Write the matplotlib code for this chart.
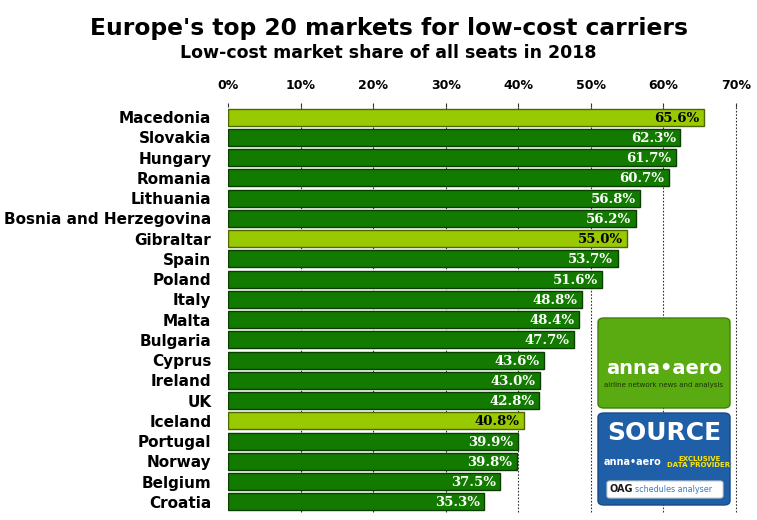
import matplotlib
matplotlib.use('Agg')
import matplotlib.pyplot as plt
from matplotlib.patches import FancyBboxPatch

countries = ['Macedonia', 'Slovakia', 'Hungary', 'Romania', 'Lithuania',
             'Bosnia and Herzegovina', 'Gibraltar', 'Spain', 'Poland', 'Italy',
             'Malta', 'Bulgaria', 'Cyprus', 'Ireland', 'UK', 'Iceland',
             'Portugal', 'Norway', 'Belgium', 'Croatia']
shares = [65.6, 62.3, 61.7, 60.7, 56.8, 56.2, 55.0, 53.7, 51.6, 48.8,
          48.4, 47.7, 43.6, 43.0, 42.8, 40.8, 39.9, 39.8, 37.5, 35.3]
highlight = ['Macedonia', 'Gibraltar', 'Iceland']
ticks = [0, 10, 20, 30, 40, 50, 60, 70]

W, H = 757, 520
fig = plt.figure(figsize=(W / 100, H / 100), dpi=100)
ax = fig.add_axes([228 / W, 1 - 512 / H, (736 - 228) / W, (512 - 107) / H])

ypos = list(range(len(countries)))
for y, c, v in zip(ypos, countries, shares):
    hl = c in highlight
    fc = '#99c900' if hl else '#137a00'
    ec = '#4d6600' if hl else '#0a3d00'
    ax.barh(y, v, height=0.84, color=fc, edgecolor=ec, linewidth=1.0, zorder=3)
    ax.text(v - 0.6, y + 0.05, f'{v:.1f}%', ha='right', va='center',
            fontsize=9.5, fontweight='bold', family='DejaVu Serif',
            color='black' if hl else 'white', zorder=4)

ax.set_xlim(0, 70)
ax.set_ylim(len(countries) - 0.5, -0.5)
ax.set_yticks(ypos)
ax.set_yticklabels(countries, fontsize=11, fontweight='bold')
ax.tick_params(axis='y', length=0, pad=12)
ax.xaxis.tick_top()
ax.set_xticks(ticks)
ax.set_xticklabels([f'{t}%' for t in ticks], fontsize=9, fontweight='bold')
ax.tick_params(axis='x', length=3, pad=8, color='#333333')
for t in ticks[1:]:
    ax.axvline(t, color='#333333', linestyle=(0, (1.5, 1.5)), linewidth=0.8,
               zorder=0, clip_on=False)
for s in ax.spines.values():
    s.set_visible(False)

fig.text(389 / W, 1 - 28 / H, "Europe's top 20 markets for low-cost carriers",
         ha='center', va='center', fontsize=16.8, fontweight='bold')
fig.text(388 / W, 1 - 53 / H, 'Low-cost market share of all seats in 2018',
         ha='center', va='center', fontsize=12.5, fontweight='bold')

# logo boxes
green = FancyBboxPatch((598 / W, 1 - 408 / H), 132 / W, 90 / H,
                       boxstyle='round,pad=0,rounding_size=0.008',
                       transform=fig.transFigure, facecolor='#5aaa12',
                       edgecolor='#3f7f0a', linewidth=1, zorder=10)
fig.add_artist(green)
fig.text(664 / W, 1 - 368 / H, 'anna\u2022aero', ha='center', va='center',
         fontsize=14, fontweight='bold', color='white', zorder=11)
fig.text(664 / W, 1 - 385 / H, 'airline network news and analysis', ha='center',
         va='center', fontsize=5, color='#1a3300', zorder=11)
blue = FancyBboxPatch((598 / W, 1 - 505 / H), 132 / W, 92 / H,
                      boxstyle='round,pad=0,rounding_size=0.008',
                      transform=fig.transFigure, facecolor='#1f5fa8',
                      edgecolor='#174a82', linewidth=1, zorder=10)
fig.add_artist(blue)
fig.text(664 / W, 1 - 433 / H, 'SOURCE', ha='center', va='center',
         fontsize=18, fontweight='bold', color='white', zorder=11)
fig.text(633 / W, 1 - 462 / H, 'anna\u2022aero', ha='center', va='center',
         fontsize=7, fontweight='bold', color='white', zorder=11)
fig.text(700 / W, 1 - 462 / H, 'EXCLUSIVE\nDATA PROVIDER:', ha='center', va='center',
         fontsize=5, fontweight='bold', color='#ffe600', zorder=11, linespacing=1.1)
wbox = FancyBboxPatch((607 / W, 1 - 498 / H), 116 / W, 17 / H,
                      boxstyle='round,pad=0,rounding_size=0.004',
                      transform=fig.transFigure, facecolor='white',
                      edgecolor='#cccccc', linewidth=0.8, zorder=11)
fig.add_artist(wbox)
fig.text(609 / W, 1 - 489 / H, 'OAG', ha='left', va='center', fontsize=7,
         fontweight='bold', color='#1a1a1a', zorder=12)
fig.text(635 / W, 1 - 489 / H, 'schedules analyser', ha='left', va='center',
         fontsize=5.8, color='#3a78c0', zorder=12)

fig.savefig('out.png', dpi=100)
